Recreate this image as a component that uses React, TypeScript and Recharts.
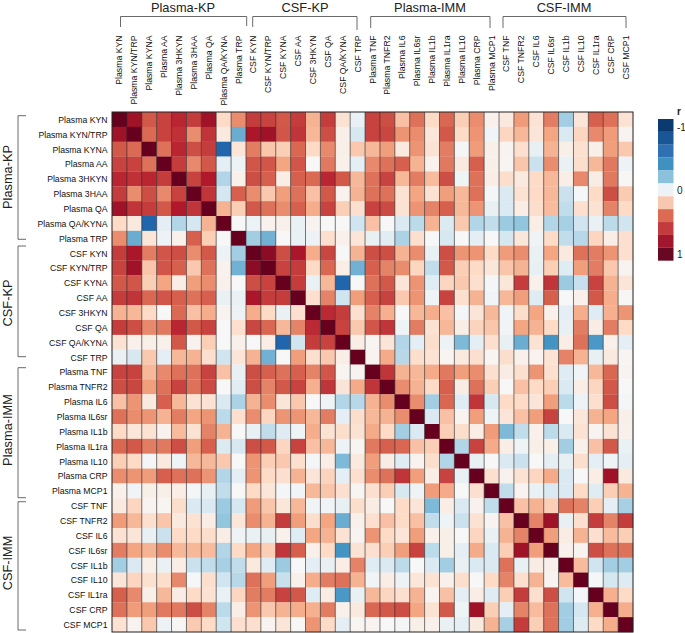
import React from "react";
import { ScatterChart, Scatter, XAxis, YAxis } from "recharts";

const WIDTH = 685;
const HEIGHT = 633;
const PLOT_LEFT = 112;
const PLOT_TOP = 112;
const PLOT_RIGHT = 633;
const PLOT_BOTTOM = 632;
const FONT = '"Liberation Sans", Arial, sans-serif';

const plasmaKp = ["Plasma KYN", "Plasma KYN/TRP", "Plasma KYNA", "Plasma AA", "Plasma 3HKYN", "Plasma 3HAA", "Plasma QA", "Plasma QA/KYNA", "Plasma TRP"];
const csfKp = ["CSF KYN", "CSF KYN/TRP", "CSF KYNA", "CSF AA", "CSF 3HKYN", "CSF QA", "CSF QA/KYNA", "CSF TRP"];
const plasmaImm = ["Plasma TNF", "Plasma TNFR2", "Plasma IL6", "Plasma IL6sr", "Plasma IL1b", "Plasma IL1ra", "Plasma IL10", "Plasma CRP", "Plasma MCP1"];
const csfImm = ["CSF TNF", "CSF TNFR2", "CSF IL6", "CSF IL6sr", "CSF IL1b", "CSF IL10", "CSF IL1ra", "CSF CRP", "CSF MCP1"];
const labels = [...plasmaKp, ...csfKp, ...plasmaImm, ...csfImm];

// Upper triangle of the correlation matrix, each row starting at its diagonal cell.
const r00 = [1, .85, .62, .68, .76, .7, .85, .2, .47, .7, .68, .62, .7, .35, .7, .15, -.07, .68, .65, .3, .55, .2, .58, .25, .47, .05, .1, .43, .15, .52, -.35, .13, .6, .55, .15];
const r01 = [1, .57, .68, .73, .47, .72, .1, -.5, .82, .85, .63, .72, .33, .65, .05, -.17, .68, .67, .45, .47, .12, .62, .2, .45, -.03, .22, .33, .13, .4, -.15, .22, .48, .43, .03];
const r02 = [1, .55, .76, .65, .7, -.8, .13, .52, .28, .25, .58, .2, .48, .06, .27, .33, .42, .1, .45, .15, .52, -.02, .43, .06, .03, .17, -.08, .35, .06, .16, .06, .42, .27];
const r03 = [1, .7, .48, .62, -.1, -.06, .63, .63, .4, .63, 0, .53, .05, -.1, .48, .55, .6, .35, .04, .53, .1, .6, .06, .02, .28, -.22, .47, -.07, .18, .33, .53, -.06];
const r04 = [1, .68, .8, -.3, .05, .65, .6, .07, .6, .57, .76, .62, .33, .55, .68, .33, .52, .32, .65, -.05, .55, .07, .18, .1, .2, .33, .07, .48, .08, .53, .01];
const r05 = [1, .72, -.18, .6, .47, .27, .42, .55, .3, .62, .04, .35, .55, .55, .15, .4, .15, .42, .33, .55, -.02, -.15, .15, .2, .33, -.22, -.01, .2, .65, .26];
const r06 = [1, .35, .25, .62, .55, .47, .6, .37, .68, .25, .17, .68, .66, .15, .45, .5, .6, .33, .45, -.08, -.15, .07, .18, .32, -.25, .17, .15, .5, .2];
const r07 = [1, 0, -.06, .04, .05, -.07, .03, 0, 0, -.2, .3, 0, -.15, -.27, .35, -.14, .27, -.3, -.25, -.37, -.4, .07, -.3, -.33, -.2, -.07, -.27, -.2];
const r08 = [1, -.35, -.48, 0, -.07, -.06, .17, .05, .13, -.08, -.11, -.32, .17, 0, -.17, 0, -.1, 0, -.18, .12, -.04, .2, -.25, -.28, .22, .07, .17];
const r09 = [1, .9, .65, .82, .37, .67, 0, .35, .65, .65, .35, .47, -.08, .65, .45, .45, .2, .43, .47, -.07, .4, .1, .55, .52, .45, .17];
const r10 = [1, .68, .7, .2, .58, .07, -.48, .6, .5, .47, .22, -.25, .62, .25, .2, .12, .28, .35, -.08, .25, -.12, .42, .52, .27, .03];
const r11 = [1, .7, -.07, .33, -.8, 0, .55, .62, .13, .45, -.12, .22, .27, .17, -.02, .12, .7, .05, .72, -.37, -.23, .68, .35, .13];
const r12 = [1, .17, .5, -.2, .42, .6, .68, .27, .45, -.05, .68, .17, .35, -.03, .33, .42, -.12, .6, 0, .05, .62, .37, .01];
const r13 = [1, .75, .7, .17, .5, .36, 0, .33, .37, .3, -.02, .13, .33, -.03, .18, .4, .05, -.1, .37, -.12, .36, .45];
const r14 = [1, .68, .27, .63, .72, -.05, .52, .15, .33, .07, .23, .28, -.03, .4, .35, .2, -.08, .52, .08, .52, .2];
const r15 = [1, .07, .02, .13, -.3, -.1, .18, -.06, -.45, -.1, .17, -.08, -.5, .15, -.6, .07, .55, -.58, .05, -.1];
const r16 = [1, .03, .38, -.28, .18, .15, .02, .1, .17, .02, .18, .05, .03, .15, .5, .35, -.08, .1, .02];
const r17 = [1, .72, .35, .33, .38, .53, .42, .47, .17, .08, .17, .45, .17, -.12, -.03, .33, .58, .03];
const r18 = [1, .47, .35, .2, .6, .08, .55, .25, 0, .3, .2, .25, -.15, .07, .22, .62, 0];
const r19 = [1, .47, -.35, .58, -.12, .72, -.17, .2, .2, .13, .42, -.27, -.06, .17, .65, -.02];
const r20 = [1, -.15, .3, .03, .42, -.05, .13, .3, .42, .68, 0, .12, .35, .4, .06];
const r21 = [1, .25, .18, .07, .43, -.45, -.25, .05, -.27, -.15, .15, .03, .15, .05];
const r22 = [1, -.3, .68, .38, .07, -.05, .06, .06, -.35, .05, .3, .62, -.07];
const r23 = [1, -.08, 0, -.15, -.22, 0, -.1, -.08, .18, -.1, -.05, -.1];
const r24 = [1, .17, .04, .15, .22, .38, -.15, 0, .07, .85, .1];
const r25 = [1, -.25, .03, -.07, -.15, -.15, .2, -.12, .25, .35];
const r26 = [1, .3, .35, .25, .55, .5, .25, -.1, -.33];
const r27 = [1, .5, .85, -.08, .17, .7, .5, .7];
const r28 = [1, .42, .08, .35, .17, .32, .25];
const r29 = [1, .05, .03, .65, .55, .55];
const r30 = [1, .32, -.2, -.35, -.35];
const r31 = [1, -.01, -.18, -.13];
const r32 = [1, .36, .2];
const r33 = [1, .37];
const r34 = [1];
const upper = [r00, r01, r02, r03, r04, r05, r06, r07, r08, r09, r10, r11, r12, r13, r14, r15, r16, r17, r18, r19, r20, r21, r22, r23, r24, r25, r26, r27, r28, r29, r30, r31, r32, r33, r34];

const stopValues = [-1, -.8, -.6, -.4, -.2, 0, .2, .4, .6, .8, 1];
const stopColors = ["#053061", "#2166ac", "#4393c3", "#92c5de", "#d1e5f0", "#f7f7f7", "#fddbc7", "#f4a582", "#d6604d", "#b2182b", "#67001f"];
const legendColors = ["#0b3a70", "#1a5596", "#2f70b5", "#4090c0", "#8cc1dd", "#ecf2f5", "#f8c7b0", "#dd6a53", "#c33b3e", "#a3172e", "#690822"];

const rgb = (hex: string) => [1, 3, 5].map((i) => parseInt(hex.slice(i, i + 2), 16));
const colorOf = (v: number) => {
  let i = 0;
  while (i < stopValues.length - 2 && v > stopValues[i + 1]) i++;
  const t = (v - stopValues[i]) / (stopValues[i + 1] - stopValues[i]);
  const a = rgb(stopColors[i]);
  const b = rgb(stopColors[i + 1]);
  return `rgb(${a.map((c, k) => Math.round(c + (b[k] - c) * t)).join(",")})`;
};

const cells: { col: number; row: number; r: number }[] = [];
upper.forEach((vals, i) =>
  vals.forEach((r, k) => {
    const j = i + k;
    cells.push({ col: j + 0.5, row: i + 0.5, r });
    if (j !== i) cells.push({ col: i + 0.5, row: j + 0.5, r });
  })
);

const centers = labels.map((_, i) => i + 0.5);
const columnEdges = labels.map((_, i) => ({ col: i + 1, row: labels.length / 2 })).slice(0, -1);
const plotCentre = [{ col: labels.length / 2, row: labels.length / 2 }];
const cellW = (PLOT_RIGHT - PLOT_LEFT) / labels.length;
const cellH = (PLOT_BOTTOM - PLOT_TOP) / labels.length;

const CellShape = (props: any) => (
  <rect
    x={props.cx - cellW / 2}
    y={props.cy - cellH / 2}
    width={cellW + 0.2}
    height={cellH + 0.2}
    fill={colorOf(props.payload.r)}
    stroke="none"
  />
);

const EdgeShape = (props: any) => (
  <line
    x1={props.cx}
    x2={props.cx}
    y1={PLOT_TOP}
    y2={PLOT_BOTTOM}
    stroke="#2a2a2a"
    strokeWidth={0.8}
    strokeOpacity={0.8}
  />
);

const FrameShape = () => (
  <rect
    x={PLOT_LEFT}
    y={PLOT_TOP}
    width={PLOT_RIGHT - PLOT_LEFT}
    height={PLOT_BOTTOM - PLOT_TOP}
    fill="none"
    stroke="#222"
    strokeWidth={1}
  />
);

const XTick = (props: any) => {
  const name = labels[Math.floor(props.payload.value)];
  return (
    <text
      transform={`translate(${props.x + 3},35.5) rotate(-90)`}
      textAnchor="end"
      fontFamily={FONT}
      fontSize={8.7}
      fill="#111"
    >
      {name}
    </text>
  );
};

const YTick = (props: any) => {
  const name = labels[Math.floor(props.payload.value)];
  return (
    <text x={107.5} y={props.y + 3.4} textAnchor="end" fontFamily={FONT} fontSize={8.7} fill="#111">
      {name}
    </text>
  );
};

const topGroups = [
  { name: "Plasma-KP", x1: 120.5, x2: 246.7, y2a: 27, y2b: 26, cx: 183 },
  { name: "CSF-KP", x1: 252.7, x2: 357, y2a: 27, y2b: 30, cx: 305 },
  { name: "Plasma-IMM", x1: 370.7, x2: 490, y2a: 28, y2b: 28, cx: 430 },
  { name: "CSF-IMM", x1: 503, x2: 626, y2a: 28, y2b: 28, cx: 564 },
];
const leftGroups = [
  { name: "Plasma-KP", y1: 115.7, y2: 239.3, cy: 177 },
  { name: "CSF-KP", y1: 246, y2: 356.7, cy: 303 },
  { name: "Plasma-IMM", y1: 367.7, y2: 497.7, cy: 430 },
  { name: "CSF-IMM", y1: 501.7, y2: 630, cy: 563 },
];
const legendTicks = [
  { text: "-1", x: 677, y: 131 },
  { text: "0", x: 677, y: 194 },
  { text: "1", x: 677, y: 258 },
];
const BRACKET = "#444";

export default function App() {
  return (
    <div style={{ position: "absolute", left: 0, top: 0, width: WIDTH, height: HEIGHT, background: "#fff" }}>
      <ScatterChart
        width={WIDTH}
        height={HEIGHT}
        margin={{ top: 0, left: 0, right: WIDTH - PLOT_RIGHT, bottom: HEIGHT - PLOT_BOTTOM }}
      >
        <XAxis
          type="number"
          dataKey="col"
          orientation="top"
          domain={[0, labels.length]}
          ticks={centers}
          interval={0}
          height={PLOT_TOP}
          axisLine={false}
          tickLine={false}
          tick={XTick}
        />
        <YAxis
          type="number"
          dataKey="row"
          reversed
          domain={[0, labels.length]}
          ticks={centers}
          interval={0}
          width={PLOT_LEFT}
          axisLine={false}
          tickLine={false}
          tick={YTick}
        />
        <Scatter data={cells} shape={CellShape} isAnimationActive={false} />
        <Scatter data={columnEdges} shape={EdgeShape} isAnimationActive={false} />
        <Scatter data={plotCentre} shape={FrameShape} isAnimationActive={false} />
        {topGroups.map((g) => (
          <g key={g.name}>
            <path
              d={`M${g.x1},${g.y2a}V16.5H${g.x2}V${g.y2b}`}
              fill="none"
              stroke={BRACKET}
              strokeWidth={0.8}
            />
            <text x={g.cx} y={11.6} textAnchor="middle" fontFamily={FONT} fontSize={12.8} fill="#222">
              {g.name}
            </text>
          </g>
        ))}
        {leftGroups.map((g) => (
          <g key={g.name}>
            <path
              d={`M26,${g.y1}H18V${g.y2}H26`}
              fill="none"
              stroke={BRACKET}
              strokeWidth={0.8}
            />
            <text
              transform={`translate(11.6,${g.cy}) rotate(-90)`}
              textAnchor="middle"
              fontFamily={FONT}
              fontSize={12.8}
              fill="#222"
            >
              {g.name}
            </text>
          </g>
        ))}
        {legendColors.map((c, i) => (
          <rect key={c} x={658} y={119 + i * 12.88} width={15.5} height={12.88} fill={c} />
        ))}
        <text x={677} y={115} fontFamily={FONT} fontSize={10} fontWeight="bold" fill="#222">
          r
        </text>
        {legendTicks.map((t) => (
          <text key={t.text} x={t.x} y={t.y} fontFamily={FONT} fontSize={10} fill="#222">
            {t.text}
          </text>
        ))}
      </ScatterChart>
    </div>
  );
}
